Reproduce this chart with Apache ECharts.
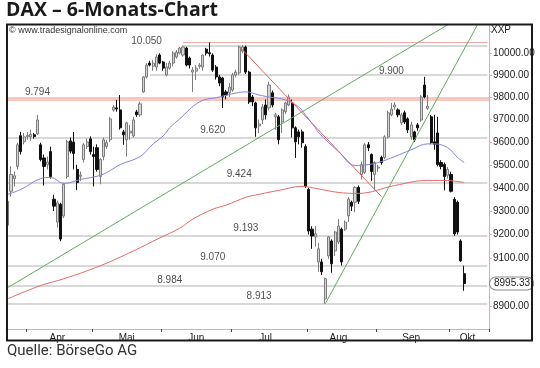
<!DOCTYPE html>
<html><head><meta charset="utf-8">
<script src="https://cdn.jsdelivr.net/npm/echarts@6/dist/echarts.min.js"></script>
<style>html,body{margin:0;padding:0;background:#fff;}#c{width:540px;height:368px;}</style>
</head><body><div id="c"></div>
<script>
// trading days (category axis)
const dates = [
'2014-03-24','2014-03-25','2014-03-26','2014-03-27','2014-03-28','2014-03-31',
'2014-04-01','2014-04-02','2014-04-03','2014-04-04','2014-04-07','2014-04-08','2014-04-09','2014-04-10','2014-04-11','2014-04-14','2014-04-15','2014-04-16','2014-04-17','2014-04-22','2014-04-23','2014-04-24','2014-04-25','2014-04-28','2014-04-29','2014-04-30',
'2014-05-02','2014-05-05','2014-05-06','2014-05-07','2014-05-08','2014-05-09','2014-05-12','2014-05-13','2014-05-14','2014-05-15','2014-05-16','2014-05-19','2014-05-20','2014-05-21','2014-05-22','2014-05-23','2014-05-26','2014-05-27','2014-05-28','2014-05-29','2014-05-30',
'2014-06-02','2014-06-03','2014-06-04','2014-06-05','2014-06-06','2014-06-09','2014-06-10','2014-06-11','2014-06-12','2014-06-13','2014-06-16','2014-06-17','2014-06-18','2014-06-19','2014-06-20','2014-06-23','2014-06-24','2014-06-25','2014-06-26','2014-06-27','2014-06-30',
'2014-07-01','2014-07-02','2014-07-03','2014-07-04','2014-07-07','2014-07-08','2014-07-09','2014-07-10','2014-07-11','2014-07-14','2014-07-15','2014-07-16','2014-07-17','2014-07-18','2014-07-21','2014-07-22','2014-07-23','2014-07-24','2014-07-25','2014-07-28','2014-07-29','2014-07-30','2014-07-31',
'2014-08-01','2014-08-04','2014-08-05','2014-08-06','2014-08-07','2014-08-08','2014-08-11','2014-08-12','2014-08-13','2014-08-14','2014-08-15','2014-08-18','2014-08-19','2014-08-20','2014-08-21','2014-08-22','2014-08-25','2014-08-26','2014-08-27','2014-08-28','2014-08-29',
'2014-09-01','2014-09-02','2014-09-03','2014-09-04','2014-09-05','2014-09-08','2014-09-09','2014-09-10','2014-09-11','2014-09-12','2014-09-15','2014-09-16','2014-09-17','2014-09-18','2014-09-19','2014-09-22','2014-09-23','2014-09-24','2014-09-25','2014-09-26','2014-09-29','2014-09-30',
'2014-10-01','2014-10-02','2014-10-03','2014-10-06','2014-10-07','2014-10-08','2014-10-09','2014-10-10','2014-10-13','2014-10-14','2014-10-15','2014-10-16'
];

// [open, close, low, high]
const candles = [
[9240,9342,9225,9355],[9385,9458,9363,9493],[9440,9452,9406,9471],[9493,9588,9480,9597],[9628,9558,9545,9645],
[9601,9623,9590,9640],[9625,9630,9610,9645],[9623,9634,9605,9655],[9632,9624,9615,9640],[9636,9698,9632,9721],
[9588,9523,9515,9597],[9530,9493,9410,9545],[9500,9512,9480,9536],[9558,9449,9440,9580],[9351,9321,9300,9370],
[9253,9335,9230,9345],[9329,9181,9172,9335],[9279,9415,9270,9420],[9449,9601,9440,9610],[9605,9560,9550,9620],
[9600,9550,9480,9645],[9480,9423,9390,9500],[9450,9455,9430,9470],[9523,9588,9510,9595],[9580,9601,9570,9615],
[9614,9558,9545,9625],[9545,9536,9406,9580],[9575,9480,9470,9590],[9449,9523,9415,9530],[9536,9610,9520,9620],
[9580,9597,9570,9610],[9610,9703,9600,9712],[9743,9756,9735,9765],[9752,9747,9735,9788],[9743,9663,9655,9810],
[9645,9632,9588,9654],[9610,9685,9536,9689],[9640,9648,9610,9676],[9627,9698,9620,9712],[9734,9721,9712,9743],
[9721,9770,9712,9780],[9824,9892,9820,9895],[9892,9946,9885,9955],[9955,9946,9940,9965],[9941,9955,9920,9970],
[9937,9983,9920,9995],[9992,9955,9950,10000],[9960,9932,9920,9965],[9901,9937,9895,9955],[9932,9955,9925,9965],
[9955,10001,9940,10010],[9983,10005,9975,10015],[10001,10024,9995,10030],[9992,10029,9985,10035],[10024,9946,9940,10030],
[9978,9946,9930,9985],[9914,9923,9824,9937],[9918,9932,9878,9946],[9940,9946,9930,9955],[9937,9992,9920,9995],
[10019,10001,9990,10025],[10003,9998,9985,10050],[9992,9923,9915,10000],[9937,9892,9880,9946],[9892,9864,9850,9901],
[9887,9801,9752,9892],[9824,9810,9790,9833],[9820,9846,9801,9864],[9833,9901,9825,9910],[9901,9914,9890,9925],
[9910,10029,9900,10035],[10010,10029,10000,10038],[10029,9914,9905,10035],[9914,9779,9770,9920],[9801,9779,9760,9810],
[9774,9663,9623,9780],[9672,9680,9640,9700],[9698,9756,9680,9770],[9765,9721,9700,9790],[9752,9855,9740,9870],
[9820,9765,9755,9830],[9712,9721,9654,9730],[9712,9610,9590,9720],[9689,9743,9640,9750],[9735,9774,9725,9780],
[9765,9801,9760,9812],[9774,9663,9620,9790],[9663,9601,9530,9670],[9645,9623,9590,9655],[9645,9597,9575,9655],
[9580,9406,9400,9590],[9393,9215,9200,9400],[9223,9194,9140,9235],[9190,9203,9150,9236],[9085,9140,9044,9165],
[9085,9044,9030,9098],[8932,9015,8912,9020],[9110,9190,9098,9194],[9173,9077,9040,9180],[9131,9211,9110,9215],
[9169,9236,9160,9266],[9223,9085,9070,9230],[9223,9253,9215,9260],[9279,9351,9253,9360],[9338,9321,9300,9345],
[9338,9402,9295,9406],[9402,9342,9330,9410],[9458,9501,9436,9514],[9467,9588,9460,9595],[9588,9575,9560,9600],
[9545,9471,9430,9550],[9458,9510,9389,9515],[9486,9490,9470,9500],[9532,9510,9500,9540],[9532,9623,9525,9630],
[9623,9730,9615,9740],[9721,9747,9715,9774],[9756,9765,9743,9778],[9743,9721,9710,9750],[9685,9721,9675,9730],
[9730,9689,9680,9740],[9703,9654,9640,9710],[9623,9676,9610,9690],[9645,9610,9600,9650],[9676,9663,9650,9685],
[9698,9801,9690,9810],[9855,9801,9795,9892],[9750,9760,9743,9810],[9712,9597,9590,9720],[9601,9590,9566,9721],
[9640,9501,9493,9712],[9510,9493,9480,9520],[9501,9449,9389,9510],[9454,9480,9440,9490],[9458,9385,9380,9470],
[9351,9203,9195,9360],[9338,9211,9200,9345],[9173,9090,9085,9180],[9036,8995.33,8965,9069]
];

// moving averages: [day index, value]
const maBlue = [[0,9372],[4,9393],[10,9440],[13,9445],[17,9419],[22,9436],[28,9454],[31,9475],[34,9501],[40,9536],[44,9592],[47,9627],[49,9663],[52,9703],[58,9779],[64,9801],[69,9819],[72,9824],[76,9810],[79,9801],[84,9788],[88,9756],[90,9721],[93,9663],[94,9641],[100,9558],[105,9497],[109,9501],[112,9510],[117,9536],[122,9566],[127,9592],[129,9592],[133,9575],[136,9532],[138,9510]];
const maRed = [[0,8932],[10,8987],[17,9015],[28,9069],[38,9131],[46,9186],[52,9227],[56,9266],[62,9308],[66,9325],[72,9359],[76,9372],[82,9389],[89,9406],[93,9398],[100,9380],[106,9376],[117,9410],[127,9432],[132,9432],[138,9423]];

// trend lines: [day index, value] endpoints
const trendUpLong = [[0,8978],[134,10141]];
const trendUpSteep = [[96,8912],[143,10160]];
const trendDown = [[70,10032],[113,9362]];

// horizontal levels
const grayLevels = [10033, 9900, 9620, 9424, 9193, 9070, 8984, 8913];
const pinkLevel = 10050;
const bandLevel = 9794;
const lastClose = 8995.33;
const levelTexts = ['10.050','9.794','9.900','9.620','9.424','9.193','9.070','8.984','8.913'];
const levelTextValues = [10050, 9794, 9900, 9620, 9424, 9193, 9070, 8984, 8913];

// axis labels
const yTickLabels = [8900, 9100, 9200, 9300, 9400, 9500, 9600, 9700, 9800, 9900, 10000];
const yTicks = [8900, 9000, 9100, 9200, 9300, 9400, 9500, 9600, 9700, 9800, 9900, 10000, 10100];
const monthNames = {'04':'Apr','05':'Mai','06':'Jun','07':'Jul','08':'Aug','09':'Sep','10':'Okt'};
const monthLabelDates = ['2014-04-14','2014-05-16','2014-06-16','2014-07-15','2014-08-14','2014-09-15','2014-10-08'];

// layout (not data)
const grayStart = [53, 43, 0, 0, 0, 0, 0, 0];
const lastIdx = dates.length - 1;
const labelAt = [42, 9, 116, 62, 70, 72, 62, 49, 76];
const labelLift = [1.5, 6.5, 4, 7.7, 8, 8.2, 8.7, 5.7, 7.5];

const PINK = '#f0a3ab';
const chart = echarts.init(document.getElementById('c'), null, {renderer: 'canvas'});

const markData = [];
grayLevels.forEach((v, k) => {
  markData.push([{coord: [grayStart[k], v], lineStyle: {color: '#cbcbcb', width: 1.5, type: 'solid'}}, {coord: [lastIdx, v]}]);
});
markData.push([{coord: [53, pinkLevel], lineStyle: {color: '#f0a8a8', width: 1.2, type: 'solid'}}, {coord: [lastIdx, pinkLevel]}]);
markData.push({yAxis: bandLevel, lineStyle: {color: '#f6c9bf', width: 4, type: 'solid'}, label: {show: false}});
markData.push({yAxis: lastClose, lineStyle: {width: 0, color: 'rgba(0,0,0,0)'},
  label: {show: true, position: 'end', distance: 1, formatter: '8995.33', fontSize: 10, fontFamily: 'Liberation Sans', color: '#222',
    backgroundColor: '#fff', borderColor: '#8a8a8a', borderWidth: 1, borderRadius: 6, padding: [1, 3, 1, 4]}});

const option = {
  animation: false,
  backgroundColor: '#fff',
  grid: {left: 6, right: 51, top: 25, bottom: 39, containLabel: false},
  xAxis: {
    type: 'category', data: dates, boundaryGap: true,
    axisLine: {lineStyle: {color: PINK, width: 1}},
    axisTick: {show: true, length: 3, alignWithLabel: false, lineStyle: {color: '#444'},
      interval: (i) => i > 0 && dates[i].slice(5, 7) !== dates[i - 1].slice(5, 7)},
    axisLabel: {interval: (i, v) => monthLabelDates.indexOf(v) >= 0, formatter: (v) => monthNames[v.slice(5, 7)] || '',
      fontSize: 10, fontFamily: 'Liberation Sans', color: '#222', margin: 4},
    splitLine: {show: false}
  },
  yAxis: {
    type: 'log', logBase: 10, position: 'right', min: 8809, max: 10131, scale: true,
    axisLine: {show: true, lineStyle: {color: PINK, width: 1}},
    axisTick: {show: true, length: 3, customValues: yTicks, lineStyle: {color: PINK}},
    axisLabel: {customValues: yTickLabels, formatter: (v) => Number(v).toFixed(2), fontSize: 10, fontFamily: 'Liberation Sans', color: '#222', margin: 4},
    splitLine: {show: false}
  },
  graphic: [
    {type: 'text', left: 6, top: 0, style: {text: 'DAX – 6-Monats-Chart', font: 'bold 19.5px "Open Sans"', fill: '#1a1a1a'}},
    {type: 'text', left: 9, top: 26, style: {text: '© www.tradesignalonline.com', font: '9px "Liberation Sans"', fill: '#333'}},
    {type: 'text', left: 491, top: 25, style: {text: 'XXP', font: '10px "Liberation Sans"', fill: '#222'}},
    {type: 'text', left: 7, top: 344, style: {text: 'Quelle: BörseGo AG', font: '15px Roboto', fill: '#333'}},
    {type: 'rect', z: 100, shape: {x: 7, y: 24.5, width: 525, height: 316}, style: {fill: 'none', stroke: '#1a1a1a', lineWidth: 2}}
  ],
  series: [
    {type: 'candlestick', name: 'DAX', data: candles, barWidth: 2.6, z: 5,
      itemStyle: {color: '#d6d6d6', borderColor: '#7c7c7c', color0: '#111', borderColor0: '#111', borderWidth: 1},
      markLine: {silent: true, symbol: 'none', animation: false, label: {show: false}, data: markData, z: 1}},
    {type: 'line', name: 'MA kurz', data: maBlue, smooth: 0.4, showSymbol: false, z: 6,
      lineStyle: {color: '#8383e0', width: 1}},
    {type: 'line', name: 'MA lang', data: maRed, smooth: 0.4, showSymbol: false, z: 6,
      lineStyle: {color: '#e46a6a', width: 1}},
    {type: 'line', data: trendUpLong, showSymbol: false, clip: true, z: 6, lineStyle: {color: '#63a863', width: 1}},
    {type: 'line', data: trendUpSteep, showSymbol: false, clip: true, z: 6, lineStyle: {color: '#63a863', width: 1}},
    {type: 'line', data: trendDown, showSymbol: false, clip: true, z: 6, lineStyle: {color: '#e66060', width: 1}},
    {type: 'scatter', symbolSize: 0, z: 7, silent: true,
      data: levelTextValues.map((v, k) => ({value: [labelAt[k], v], label: {offset: [0, -labelLift[k]]}})),
      label: {show: true, position: 'inside', formatter: (p) => levelTexts[p.dataIndex], fontSize: 10, fontFamily: 'Liberation Sans', color: '#222'}}
  ]
};
chart.setOption(option);
</script></body></html>
